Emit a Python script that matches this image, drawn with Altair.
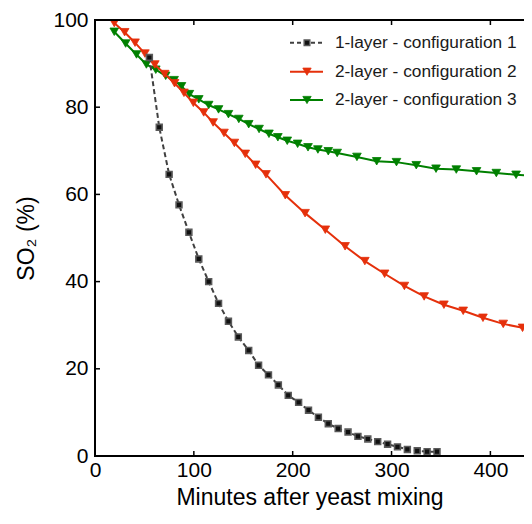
import altair as alt
import pandas as pd

# ---------------- data ----------------
gray_x = [55, 65, 75, 85, 95, 105, 115, 125, 135, 145, 155.5, 165.5, 175.5, 185.5, 195.5,
          206, 216, 226, 236, 246, 256, 266, 276, 286, 296, 306, 316, 326, 336, 346]
gray_y = [91.4, 75.4, 64.6, 57.6, 51.3, 45.2, 40.0, 35.0, 30.9, 27.3, 24.2, 20.8, 18.6, 16.3, 13.9,
          12.3, 10.5, 8.9, 7.4, 6.3, 5.5, 4.5, 3.9, 3.3, 2.7, 2.1, 1.5, 1.2, 1.0, 1.0]

red_x = [19.5, 30, 40.5, 50.5, 60.5, 70.5, 80.5, 90, 99.5, 110, 119.5, 130.5, 141, 152, 162.5,
         173, 192.5, 212.5, 233, 253, 273, 293, 313, 333, 353, 372.5, 392.5, 413, 432.5, 452]
red_y = [99.3, 97.2, 94.8, 92.3, 89.8, 87.6, 85.5, 83.3, 81.0, 78.8, 76.5, 74.1, 71.8, 69.3, 66.8,
         64.6, 59.8, 55.7, 51.9, 48.1, 44.7, 41.8, 39.0, 36.6, 34.7, 33.3, 31.7, 30.3, 29.4, 28.6]

green_x = [19.5, 31, 42, 52, 61.5, 71.5, 80, 87.5, 95.5, 105, 115, 125, 135, 145.5, 155.5, 166,
           176, 185, 194.5, 205, 215.5, 225.5, 236, 245, 265, 285, 305, 325, 345, 365.5, 386,
           406, 426, 446]
green_y = [97.3, 94.6, 92.1, 89.8, 88.6, 87.2, 86.2, 84.8, 83.0, 81.8, 80.5, 79.5, 78.4, 77.3, 76.1,
           75.0, 73.9, 73.1, 72.3, 71.6, 70.8, 70.3, 69.9, 69.5, 68.6, 67.6, 67.4, 66.7, 65.9, 65.7,
           65.3, 64.9, 64.5, 64.2]

series_names = ["1-layer - configuration 1", "2-layer - configuration 2", "2-layer - configuration 3"]
x_ticks = [0, 100, 200, 300, 400]
y_ticks = [0, 20, 40, 60, 80, 100]

# ---------------- styling ----------------
FONT = "Liberation Sans"
GRAY_LINE = "#404040"
RED = "#e5300b"
GREEN = "#008000"
W, H = 429, 436

xs = alt.Scale(domain=[0, 434], nice=False, zero=False)
ys = alt.Scale(domain=[0, 100], nice=False, zero=False)

x_axis = alt.Axis(values=x_ticks, ticks=False, tickSize=0, domain=False, grid=False,
                  labelFont=FONT, labelFontSize=21, labelColor="black", labelPadding=3,
                  labelFlush=False, format="d",
                  title="Minutes after yeast mixing", titleFont=FONT, titleFontSize=23,
                  titleFontWeight="normal", titleColor="black", titlePadding=6)
y_axis = alt.Axis(values=y_ticks, ticks=False, tickSize=0, domain=False, grid=False,
                  labelFont=FONT, labelFontSize=21, labelColor="black", labelPadding=7,
                  labelFlush=False, format="d",
                  title="SO₂ (%)", titleFont=FONT, titleFontSize=23,
                  titleFontWeight="normal", titleColor="black", titlePadding=14)

X = alt.X("x:Q", scale=xs, axis=x_axis)
Y = alt.Y("y:Q", scale=ys, axis=y_axis)


def df(x, y):
    return pd.DataFrame({"x": x, "y": y})


gray_df, red_df, green_df = df(gray_x, gray_y), df(red_x, red_y), df(green_x, green_y)

layers = []
# green
layers.append(alt.Chart(green_df).mark_line(color=GREEN, strokeWidth=2, clip=True).encode(x=X, y=Y))
layers.append(alt.Chart(green_df).mark_point(shape="triangle-down", filled=True, fill=GREEN, stroke=GREEN,
                                             strokeWidth=0.8, size=75, opacity=1, clip=True).encode(x=X, y=Y))
# red
layers.append(alt.Chart(red_df).mark_line(color=RED, strokeWidth=2, clip=True).encode(x=X, y=Y))
layers.append(alt.Chart(red_df).mark_point(shape="triangle-down", filled=True, fill=RED, stroke=RED,
                                           strokeWidth=0.8, size=75, opacity=1, clip=True).encode(x=X, y=Y))
# gray
layers.append(alt.Chart(gray_df).mark_line(color=GRAY_LINE, strokeWidth=2, strokeDash=[5, 3], clip=True)
              .encode(x=X, y=Y))
layers.append(alt.Chart(gray_df).mark_point(shape="square", filled=True, fill="#111111", stroke="#5a5a5a",
                                            strokeWidth=1.6, size=34, opacity=1, clip=True).encode(x=X, y=Y))

# inward ticks (left, bottom, top)
yt = pd.DataFrame({"y": y_ticks})
xt = pd.DataFrame({"x": x_ticks})
layers.append(alt.Chart(yt).mark_rule(color="black", strokeWidth=1.5)
              .encode(y=Y, x=alt.value(0), x2=alt.value(5)))
layers.append(alt.Chart(xt).mark_rule(color="black", strokeWidth=1.5)
              .encode(x=X, y=alt.value(H - 5), y2=alt.value(H)))
layers.append(alt.Chart(xt).mark_rule(color="black", strokeWidth=1.5)
              .encode(x=X, y=alt.value(0), y2=alt.value(5)))

# frame: left, bottom and top (the right edge lies outside the picture)
frame = pd.DataFrame({"k": [0]})
layers.append(alt.Chart(frame).mark_rule(color="black", strokeWidth=2)
              .encode(x=alt.value(0), y=alt.value(-1), y2=alt.value(H + 1)))
layers.append(alt.Chart(frame).mark_rule(color="black", strokeWidth=2)
              .encode(x=alt.value(-1), x2=alt.value(W + 2), y=alt.value(H)))
layers.append(alt.Chart(frame).mark_rule(color="black", strokeWidth=2)
              .encode(x=alt.value(-1), x2=alt.value(W + 2), y=alt.value(0)))

# legend (manual, top right inside the frame)
leg_styles = [
    dict(color=GRAY_LINE, dash=[4, 3], shape="square", fill="#111111", stroke="#5a5a5a", size=30, sw=1.6),
    dict(color=RED, dash=None, shape="triangle-down", fill=RED, stroke=RED, size=70, sw=0.8),
    dict(color=GREEN, dash=None, shape="triangle-down", fill=GREEN, stroke=GREEN, size=70, sw=0.8),
]
leg_y = [22.7, 51.7, 80.0]
for name, st, yy in zip(series_names, leg_styles, leg_y):
    ldf = pd.DataFrame({"label": [name]})
    rule_kw = dict(color=st["color"], strokeWidth=2)
    if st["dash"]:
        rule_kw["strokeDash"] = st["dash"]
    layers.append(alt.Chart(ldf).mark_rule(**rule_kw)
                  .encode(x=alt.value(195), x2=alt.value(228), y=alt.value(yy)))
    layers.append(alt.Chart(ldf).mark_point(shape=st["shape"], filled=True, fill=st["fill"], stroke=st["stroke"],
                                            strokeWidth=st["sw"], size=st["size"], opacity=1)
                  .encode(x=alt.value(212), y=alt.value(yy)))
    layers.append(alt.Chart(ldf).mark_text(align="left", baseline="middle", font=FONT, fontSize=17.3,
                                           color="#1a1a1a")
                  .encode(x=alt.value(240), y=alt.value(yy), text="label:N"))

chart = alt.layer(*layers).properties(
    width=W, height=H,
    autosize=alt.AutoSizeParams(type="none"),
    padding={"left": 87, "top": 12, "right": 0, "bottom": 55},
).configure_view(stroke=None).configure(background="white")

chart.save("out.html", embed_options={"renderer": "svg", "actions": False})
